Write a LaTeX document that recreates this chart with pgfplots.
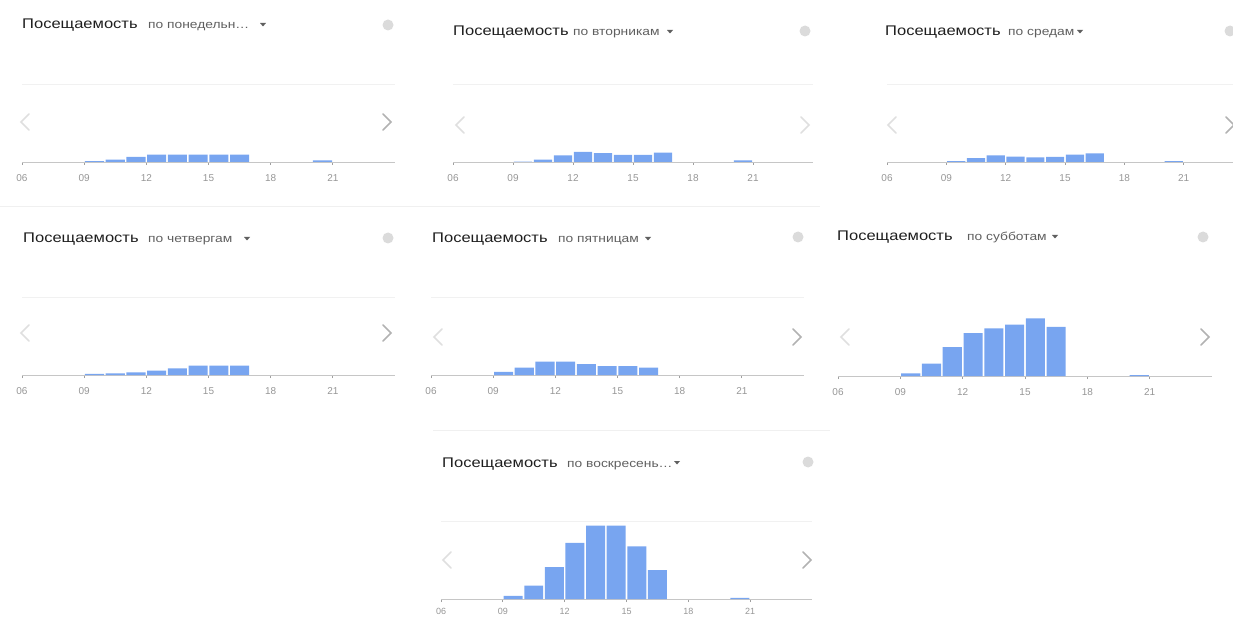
\documentclass[border=0pt]{standalone}
\usepackage{pgfplots}
\pgfplotsset{compat=1.18}
\usepackage{fontspec}
\setmainfont{Liberation Sans}
\usepackage{graphicx}
\definecolor{barblue}{RGB}{120,165,240}
\definecolor{titlec}{RGB}{30,30,30}
\definecolor{subc}{RGB}{95,95,95}
\definecolor{tickc}{RGB}{150,150,150}
\pgfplotsset{
  pop/.style={
    scale only axis, height=78pt,
    xmin=6, xmax=24, ymin=0, ymax=100,
    axis x line=bottom, axis y line=none,
    x axis line style={-, draw=gray!45, line width=0.8pt},
    xtick={6,9,12,15,18,21}, xticklabels={06,09,12,15,18,21},
    xtick align=outside, major tick length=3pt,
    xtick style={draw=gray!75, line width=0.8pt},
    xticklabel style={font=\fontsize{10}{11}\selectfont, text=tickc, yshift=-6pt},
    clip=false,
  },
  bars/.style={ybar, bar width=0.92, bar shift=0pt, fill=barblue, draw=none},
  grid100/.style={draw=gray!11, line width=0.8pt},
}
\newcommand\header[5]{%
  \node[anchor=base west, inner sep=0, text=titlec] at (#1pt,#2pt) {\scalebox{1.18}[1]{\fontsize{14}{16}\selectfont Посещаемость}};
  \node[anchor=base west, inner sep=0, text=subc] at (#3pt,#2pt) {\scalebox{1.2}[1]{\fontsize{11.5}{13}\selectfont #4}};
  \fill[subc] (#5pt-3pt,#2pt+6pt) -- (#5pt+3pt,#2pt+6pt) -- (#5pt,#2pt+2.5pt) -- cycle;
}
\newcommand\lchev[3]{\draw[#3, line width=1.5pt, line cap=round] (#1pt+4pt,#2pt+8pt) -- (#1pt-4pt,#2pt) -- (#1pt+4pt,#2pt-8pt);}
\newcommand\rchev[3]{\draw[#3, line width=1.5pt, line cap=round] (#1pt-4pt,#2pt+8pt) -- (#1pt+4pt,#2pt) -- (#1pt-4pt,#2pt-8pt);}
\newcommand\info[2]{\fill[gray!28] (#1pt,#2pt) circle (5.5pt);}
\begin{document}
\begin{tikzpicture}
\useasboundingbox (0,0) rectangle (1233pt,619pt);
\clip (0,0) rectangle (1233pt,619pt);
% separators
\draw[gray!12, line width=1pt] (0pt,412pt) -- (820pt,412pt);
\draw[gray!12, line width=1pt] (433pt,189pt) -- (830pt,189pt);

% ---------- Monday ----------
\header{22}{590}{148}{по понедельн…}{263}
\info{388}{594}
\lchev{25}{497}{gray!25}
\rchev{387}{497}{gray!60}
\begin{axis}[pop, width=373pt, at={(22pt,457pt)}, anchor=south west]
\addplot[grid100] coordinates {(6,100) (24,100)};
\addplot[bars] coordinates {(9.5,1) (10.5,3) (11.5,6.5) (12.5,9.5) (13.5,9.5) (14.5,9.5) (15.5,9.5) (16.5,9.5) (20.5,2)};
\end{axis}

% ---------- Tuesday ----------
\header{453}{583}{573}{по вторникам}{670}
\info{805}{588}
\lchev{460}{494}{gray!25}
\rchev{805}{494}{gray!25}
\begin{axis}[pop, width=360pt, at={(453pt,457pt)}, anchor=south west]
\addplot[grid100] coordinates {(6,100) (24,100)};
\addplot[bars] coordinates {(9.5,0.5) (10.5,3) (11.5,8.5) (12.5,13) (13.5,11.5) (14.5,9) (15.5,9) (16.5,12) (20.5,2)};
\end{axis}

% ---------- Wednesday ----------
\header{885}{583}{1008}{по средам}{1080}
\info{1230}{588}
\lchev{892}{494}{gray!25}
\rchev{1230}{494}{gray!60}
\begin{axis}[pop, width=356pt, at={(887pt,457pt)}, anchor=south west]
\addplot[grid100] coordinates {(6,100) (24,100)};
\addplot[bars] coordinates {(9.5,1) (10.5,5) (11.5,8.5) (12.5,7) (13.5,6) (14.5,6.5) (15.5,9.5) (16.5,11) (20.5,1)};
\end{axis}

% ---------- Thursday ----------
\header{23}{376}{148}{по четвергам}{247}
\info{388}{381}
\lchev{25}{286}{gray!25}
\rchev{387}{286}{gray!60}
\begin{axis}[pop, width=373pt, at={(22pt,244pt)}, anchor=south west]
\addplot[grid100] coordinates {(6,100) (24,100)};
\addplot[bars] coordinates {(9.5,1.5) (10.5,2) (11.5,3.5) (12.5,5.5) (13.5,8.5) (14.5,12) (15.5,12) (16.5,12)};
\end{axis}

% ---------- Friday ----------
\header{432}{376}{558}{по пятницам}{648}
\info{798}{382}
\lchev{438}{282}{gray!25}
\rchev{797}{282}{gray!60}
\begin{axis}[pop, width=373pt, at={(431pt,244pt)}, anchor=south west]
\addplot[grid100] coordinates {(6,100) (24,100)};
\addplot[bars] coordinates {(9.5,4) (10.5,9.5) (11.5,17) (12.5,17) (13.5,14) (14.5,11.5) (15.5,11.5) (16.5,9.5)};
\end{axis}

% ---------- Saturday ----------
\header{837}{378}{967}{по субботам}{1055}
\info{1203}{382}
\lchev{845}{282}{gray!25}
\rchev{1205}{282}{gray!60}
\begin{axis}[pop, width=374pt, at={(838pt,243pt)}, anchor=south west]
\addplot[bars] coordinates {(9.5,3.5) (10.5,16) (11.5,37) (12.5,55) (13.5,61) (14.5,66) (15.5,74) (16.5,63) (20.5,1)};
\end{axis}

% ---------- Sunday ----------
\header{442}{152}{567}{по воскресень…}{677}
\info{808}{157}
\lchev{447}{59}{gray!25}
\rchev{807}{59}{gray!60}
\begin{axis}[pop, width=371pt, at={(441pt,20pt)}, anchor=south west,
  xticklabel style={font=\fontsize{9}{10}\selectfont, yshift=3pt}]
\addplot[grid100] coordinates {(6,100) (24,100)};
\addplot[bars] coordinates {(9.5,4) (10.5,17) (11.5,41) (12.5,72) (13.5,94) (14.5,94) (15.5,67.5) (16.5,37) (20.5,1.5)};
\end{axis}
\end{tikzpicture}
\end{document}
